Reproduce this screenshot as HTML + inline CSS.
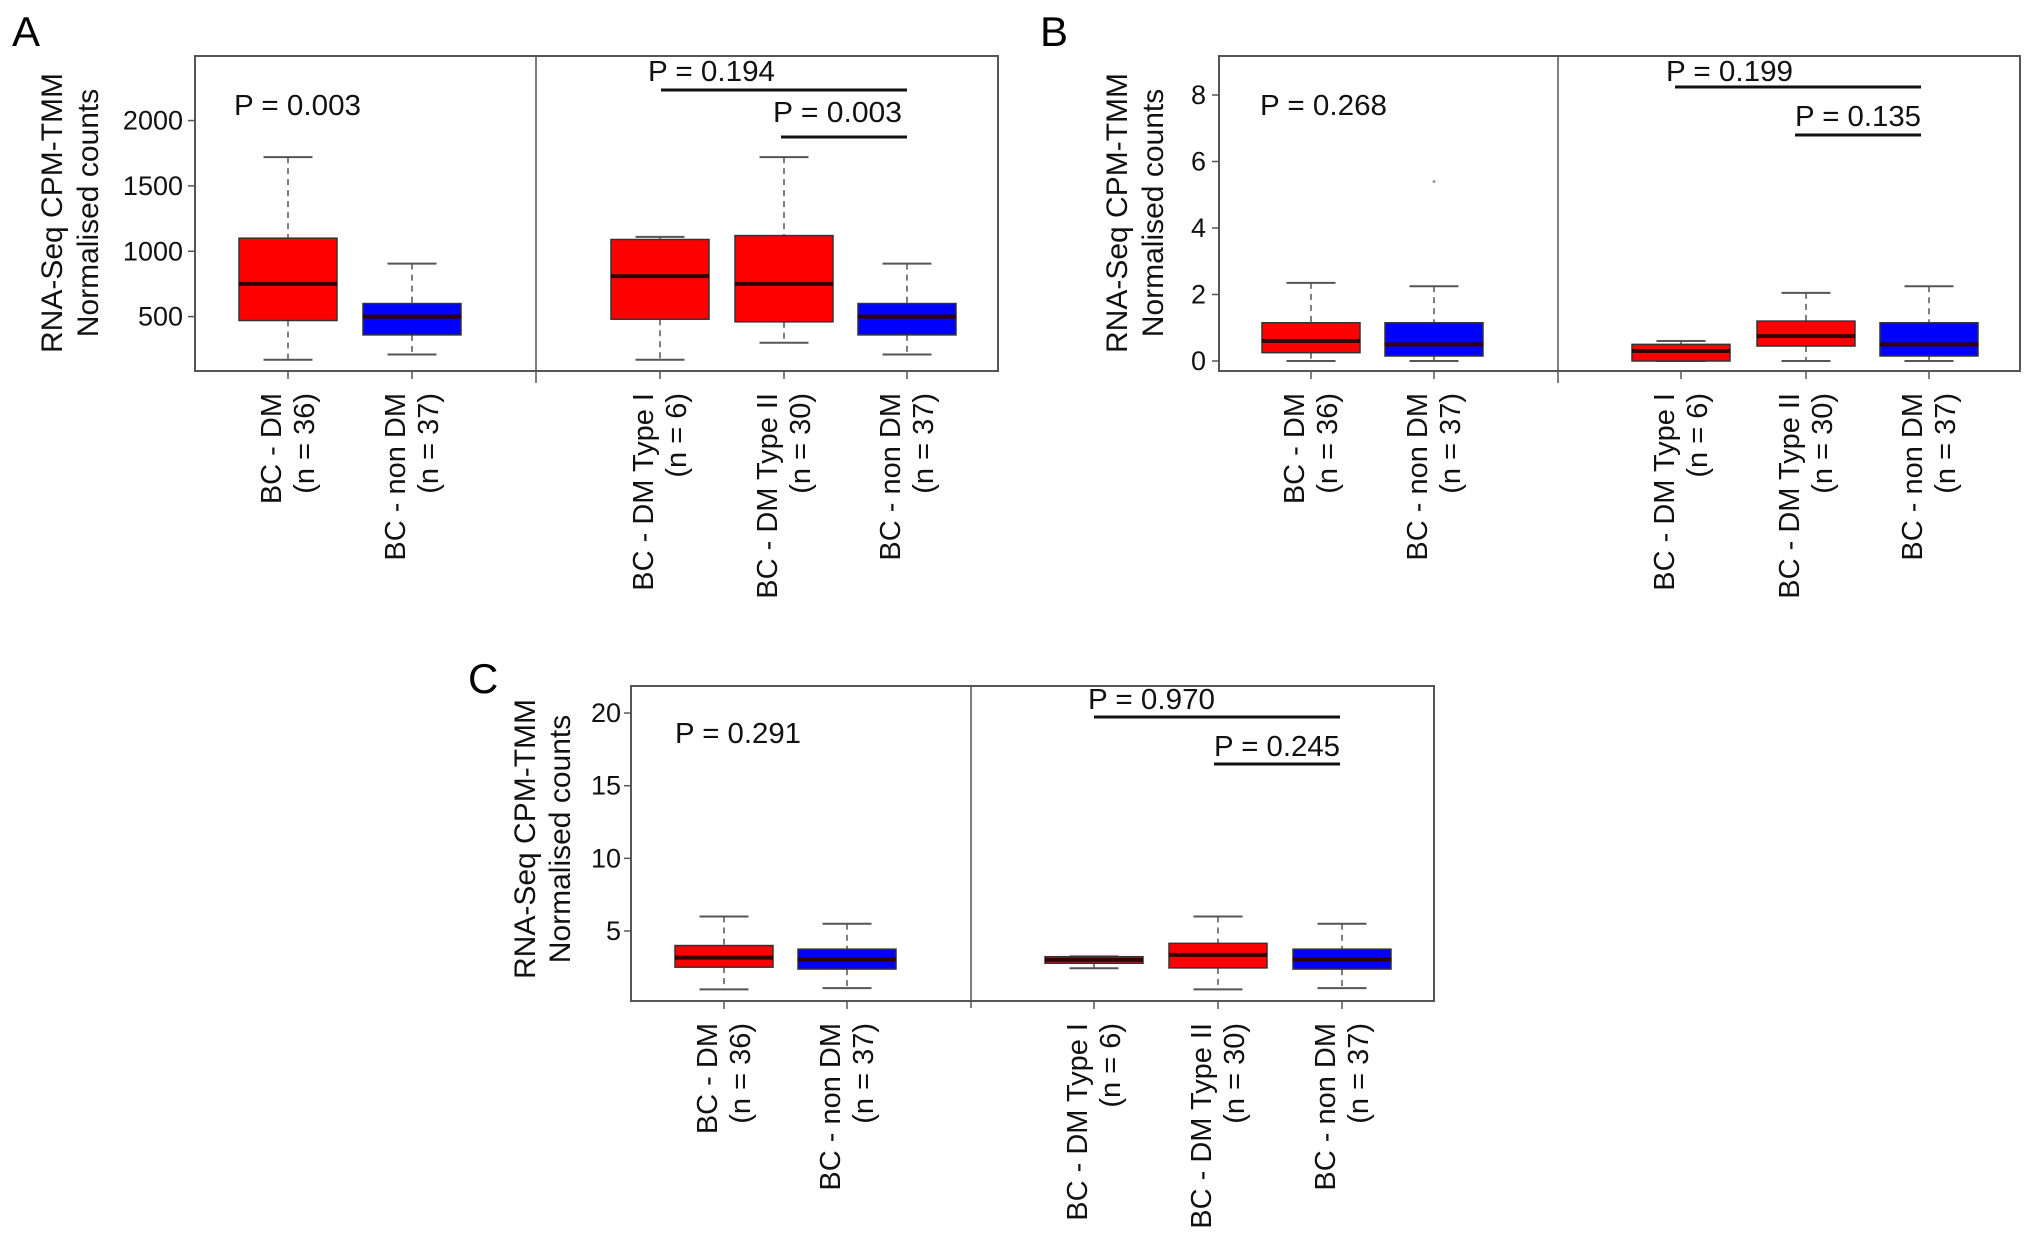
<!DOCTYPE html>
<html><head><meta charset="utf-8"><style>
html,body{margin:0;padding:0;background:#fff;}
svg{display:block;font-family:"Liberation Sans",sans-serif;}
</style></head><body>
<svg id="fig" width="2032" height="1237" viewBox="0 0 2032 1237" xmlns="http://www.w3.org/2000/svg">
<text x="12" y="46" font-size="42">A</text>
<text x="1040" y="46" font-size="42">B</text>
<text x="468" y="693" font-size="42">C</text>
</svg>
<script>
// ---- data ----
const catNames = ["BC - DM","BC - non DM","BC - DM Type I","BC - DM Type II","BC - non DM"];
const catN = ["(n = 36)","(n = 37)","(n = 6)","(n = 30)","(n = 37)"];
const boxColors = ["#ff0000","#0000ff","#ff0000","#ff0000","#0000ff"];

const aHi  = [1720, 905, 1110, 1720, 905];
const aQ3  = [1100, 600, 1090, 1120, 600];
const aMed = [750, 500, 810, 750, 500];
const aQ1  = [470, 360, 480, 460, 360];
const aLo  = [170, 210, 170, 300, 210];
const aTicks = [500, 1000, 1500, 2000];

const bHi  = [2.35, 2.25, 0.6, 2.05, 2.25];
const bQ3  = [1.15, 1.15, 0.5, 1.2, 1.15];
const bMed = [0.6, 0.5, 0.3, 0.75, 0.5];
const bQ1  = [0.25, 0.15, 0.0, 0.45, 0.15];
const bLo  = [0, 0, 0, 0, 0];
const bTicks = [0, 2, 4, 6, 8];

const cHi  = [6.0, 5.5, 3.25, 6.0, 5.5];
const cQ3  = [4.0, 3.75, 3.23, 4.15, 3.75];
const cMed = [3.17, 3.04, 3.01, 3.36, 3.04];
const cQ1  = [2.51, 2.38, 2.78, 2.46, 2.38];
const cLo  = [0.98, 1.07, 2.44, 0.98, 1.07];
const cTicks = [5, 10, 15, 20];

const aPvals = ["P = 0.003","P = 0.194","P = 0.003"];
const bPvals = ["P = 0.268","P = 0.199","P = 0.135"];
const cPvals = ["P = 0.291","P = 0.970","P = 0.245"];

// ---- layout ----
const NS = "http://www.w3.org/2000/svg";
const svg = document.getElementById("fig");
function mk(tag, attrs, parent){
  const e = document.createElementNS(NS, tag);
  for (const k in attrs) e.setAttribute(k, attrs[k]);
  (parent||svg).appendChild(e);
  return e;
}
const panels = [
  {id:"a", L:195, R:998, T:56, B:371, div:536, divB:383, centers:[288,412,660,784,907],
   y0:500, py0:316.6, scale:0.1307, ticks:aTicks, hi:aHi,q3:aQ3,med:aMed,q1:aQ1,lo:aLo, p:aPvals,
   tickX:183, titleX:[52,88], titleY:213, labY:393,
   pt:[{x:234,y:115,w:127},{x:648,y:81,w:127,lx1:661,lx2:907,ly:90},{x:773,y:122,w:129,lx1:781,lx2:907,ly:137}]},
  {id:"b", L:1219, R:2020, T:56, B:371, div:1558, divB:383, centers:[1311,1434,1681,1806,1929],
   y0:0, py0:361, scale:33.25, ticks:bTicks, hi:bHi,q3:bQ3,med:bMed,q1:bQ1,lo:bLo, p:bPvals,
   tickX:1206, titleX:[1117,1153], titleY:213, labY:393, outlier:{i:1,v:5.4},
   pt:[{x:1260,y:115,w:127},{x:1666,y:81,w:127,lx1:1675,lx2:1921,ly:87},{x:1795,y:126,w:126,lx1:1795,lx2:1921,ly:135}]},
  {id:"c", L:631, R:1434, T:686, B:1001, div:971, divB:1008, centers:[724,847,1094,1218,1342],
   y0:5, py0:931, scale:14.53, ticks:cTicks, hi:cHi,q3:cQ3,med:cMed,q1:cQ1,lo:cLo, p:cPvals,
   tickX:621, titleX:[525,560], titleY:839, labY:1023,
   pt:[{x:675,y:743,w:126},{x:1088,y:709,w:127,lx1:1094,lx2:1340,ly:717},{x:1214,y:756,w:126,lx1:1214,lx2:1340,ly:764}]}
];

panels.forEach(P=>{
  const g = mk("g",{});
  
  
  const Y = v => P.py0 - (v - P.y0)*P.scale;
  const fr = mk("rect",{x:P.L,y:P.T,width:P.R-P.L,height:P.B-P.T,fill:"none",stroke:"#555","stroke-width":2},g);
  
  
  const dv = mk("line",{x1:P.div,x2:P.div,y1:P.T,y2:P.divB,stroke:"#555","stroke-width":1.5},g);
  
  
  P.ticks.forEach(t=>{
    const tl = mk("line",{x1:P.L-7,x2:P.L,y1:Y(t),y2:Y(t),stroke:"#555","stroke-width":1.5},g);
    
    
    const tx = mk("text",{x:P.tickX,y:Y(t)+9,"font-size":27,"text-anchor":"end",fill:"#111"},g);
    tx.textContent = t;
    
    
  });
  ["RNA-Seq CPM-TMM","Normalised counts"].forEach((s,i)=>{
    const t = mk("text",{transform:`translate(${P.titleX[i]+10},${P.titleY}) rotate(-90)`,"font-size":30,"text-anchor":"middle",fill:"#111"},g);
    t.textContent = s;
    
    
  });
  P.centers.forEach((cx,i)=>{
    const bw = 98, cw = 49;
    const bg = mk("g",{},g);
    
    
    mk("line",{x1:cx,x2:cx,y1:Y(P.hi[i]),y2:Y(P.q3[i]),stroke:"#555","stroke-width":1.5,"stroke-dasharray":"6,5"},bg);
    mk("line",{x1:cx,x2:cx,y1:Y(P.q1[i]),y2:Y(P.lo[i]),stroke:"#555","stroke-width":1.5,"stroke-dasharray":"6,5"},bg);
    mk("line",{x1:cx-cw/2,x2:cx+cw/2,y1:Y(P.hi[i]),y2:Y(P.hi[i]),stroke:"#555","stroke-width":2},bg);
    mk("line",{x1:cx-cw/2,x2:cx+cw/2,y1:Y(P.lo[i]),y2:Y(P.lo[i]),stroke:"#555","stroke-width":2},bg);
    mk("rect",{x:cx-bw/2,y:Y(P.q3[i]),width:bw,height:Math.max(1,Y(P.q1[i])-Y(P.q3[i])),fill:boxColors[i],stroke:"#333","stroke-width":1.5},bg);
    mk("line",{x1:cx-bw/2,x2:cx+bw/2,y1:Y(P.med[i]),y2:Y(P.med[i]),stroke:"#300","stroke-width":4},bg);
    mk("line",{x1:cx,x2:cx,y1:P.B,y2:P.B+8,stroke:"#555","stroke-width":1.5},bg);
    const l1 = mk("text",{transform:`translate(${cx-7},${P.labY}) rotate(-90)`,"font-size":29,"text-anchor":"end",fill:"#111"},g);
    l1.textContent = catNames[i];
    
    
    const l2 = mk("text",{transform:`translate(${cx+26},${P.labY}) rotate(-90)`,"font-size":29,"text-anchor":"end",fill:"#111"},g);
    l2.textContent = catN[i];
    
    
  });
  if (P.outlier){
    const o = mk("circle",{cx:P.centers[P.outlier.i],cy:Y(P.outlier.v),r:1.5,fill:"#999"},g);
    
    
  }
  P.pt.forEach((q,i)=>{
    const t = mk("text",{x:q.x,y:q.y,"font-size":29,textLength:q.w,lengthAdjust:"spacingAndGlyphs",fill:"#111"},g);
    t.textContent = P.p[i];
    
    
    if (q.lx1){
      const ln = mk("line",{x1:q.lx1,x2:q.lx2,y1:q.ly,y2:q.ly,stroke:"#111","stroke-width":3},g);
      
      
    }
  });
});
</script>
</body></html>
